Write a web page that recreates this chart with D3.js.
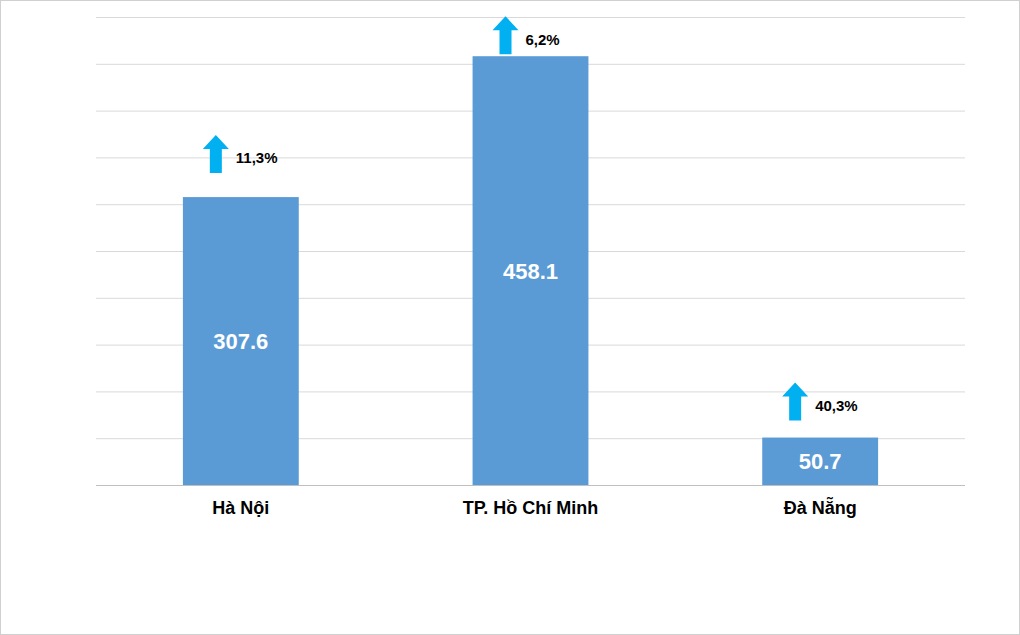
<!DOCTYPE html>
<html><head><meta charset="utf-8">
<script src="https://cdn.jsdelivr.net/npm/d3@7"></script>
<style>body{margin:0;background:#fff}svg{display:block}</style></head>
<body><svg id="c" width="1020" height="635"></svg>
<script>
const categories = ["Hà Nội", "TP. Hồ Chí Minh", "Đà Nẵng"];
const values = [307.6, 458.1, 50.7];
const growth = ["11,3%", "6,2%", "40,3%"];
const yTicks = d3.range(0, 501, 50);

const svg = d3.select("#c");
svg.append("rect").attr("x",0.5).attr("y",0.5).attr("width",1019).attr("height",634)
  .attr("fill","#fff").attr("stroke","#d0d0d0");
const m = {l:96, r:55, t:17, b:150};
const W = 1020, H = 635;
const x = d3.scaleBand().domain(categories).range([m.l, W-m.r]).paddingInner(0.6).paddingOuter(0.3);
const y = d3.scaleLinear().domain([0,500]).range([H-m.b, m.t]);
const arrowGap = [24, 2, 17];

svg.append("g").selectAll("line").data(yTicks).join("line")
  .attr("x1", m.l).attr("x2", W-m.r).attr("y1", d=>y(d)+0.5).attr("y2", d=>y(d)+0.5)
  .attr("stroke", d=>d===0?"#bfbfbf":"#d9d9d9").attr("stroke-width",1);

svg.append("g").selectAll("rect").data(values).join("rect")
  .attr("x",(d,i)=>x(categories[i])).attr("width",x.bandwidth())
  .attr("y",d=>y(d)).attr("height",d=>y(0)-y(d)).attr("fill","#5b9bd5");

svg.append("g").selectAll("text").data(values).join("text")
  .attr("x",(d,i)=>x(categories[i])+x.bandwidth()/2)
  .attr("y",d=>(y(d)+y(0))/2).attr("dy","0.36em").attr("text-anchor","middle")
  .attr("fill","#fff").attr("font-family","Liberation Sans, Arial").attr("font-weight","bold")
  .attr("font-size",22).text(d=>d.toFixed(1));

const ax = svg.append("g").attr("transform",`translate(0,${y(0)})`)
  .call(d3.axisBottom(x).tickSize(0).tickPadding(16));
ax.select(".domain").remove();
ax.selectAll("text").attr("font-family","Liberation Sans, Arial").attr("font-weight","bold")
  .attr("font-size",18).attr("fill","#000");

values.forEach((v,i)=>{
  const cx = x(categories[i]) + x.bandwidth()/2 - 25;
  const bot = y(v) - arrowGap[i], top = bot - 38;
  svg.append("path").attr("fill","#00b0f0")
    .attr("d",`M${cx-6},${bot} L${cx-6},${top+14} L${cx-13},${top+14} L${cx},${top} L${cx+13},${top+14} L${cx+6},${top+14} L${cx+6},${bot} Z`);
  svg.append("text").attr("x",cx+20).attr("y",bot-15).attr("dy","0.36em")
    .attr("font-family","Liberation Sans, Arial").attr("font-weight","bold").attr("font-size",15)
    .attr("fill","#000").text(growth[i]);
});
</script></body></html>
